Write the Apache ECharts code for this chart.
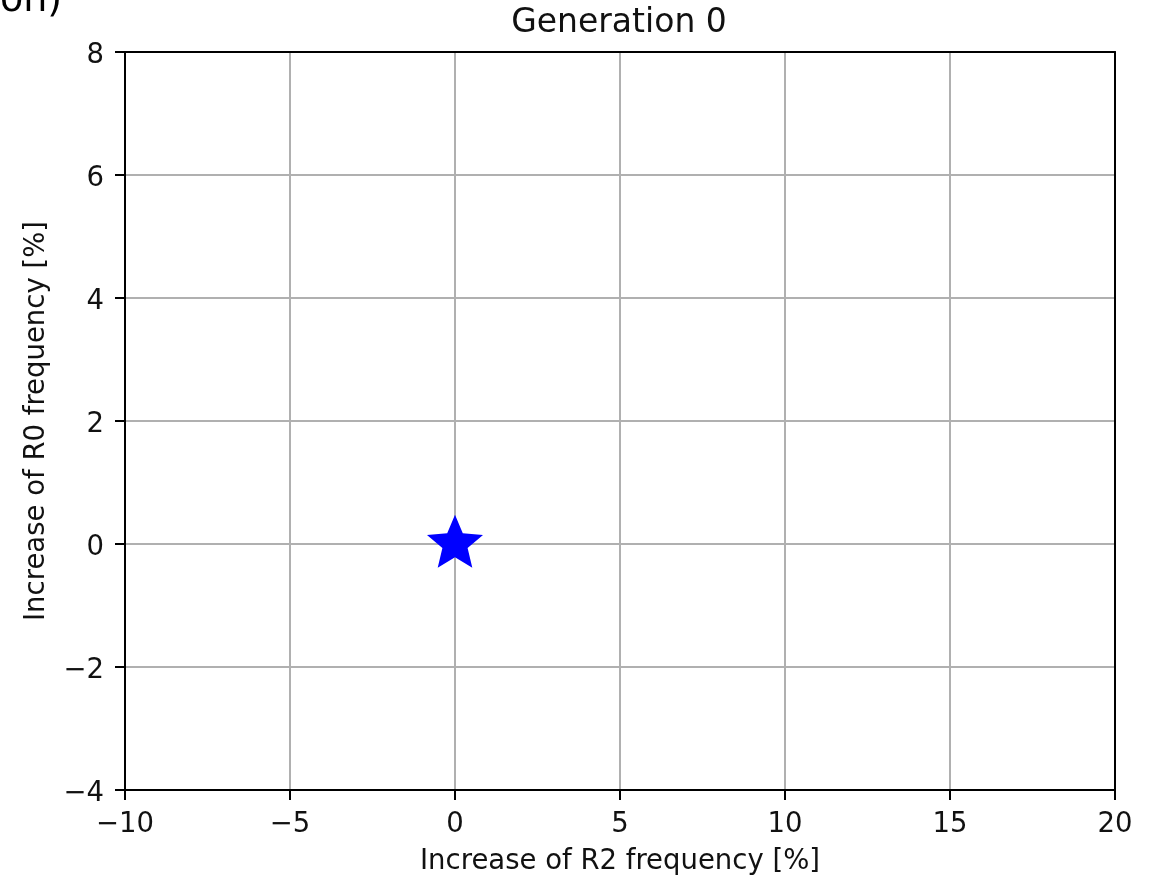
<!DOCTYPE html>
<html>
<head>
<meta charset="utf-8">
<script src="https://cdn.jsdelivr.net/npm/echarts@6/dist/echarts.min.js"></script>
<style>html,body{margin:0;padding:0;background:#fff;}#c{width:1161px;height:876px;}</style>
</head>
<body>
<div id="c"></div>
<script>
const titleText = 'Generation 0';
const xName = 'Increase of R2 frequency [%]';
const yName = 'Increase of R0 frequency [%]';
const xValues = [0];
const yValues = [0];
const xRange = [-10, 20];
const yRange = [-4, 8];
const xStep = 5;
const yStep = 2;

const FONT = 'DejaVu Sans';
const fmt = v => String(v).replace('-', '\u2212');
const starPath = 'path://M100,0L126.45,63.59L195.11,69.1L142.8,113.91L158.78,180.9L100,145L41.22,180.9L57.2,113.91L4.89,69.1L73.55,63.59Z';

const chart = echarts.init(document.getElementById('c'), null, {renderer: 'canvas'});
const axisLineStyle = {color: '#000', width: 2};
chart.setOption({
  animation: false,
  backgroundColor: '#fff',
  title: {
    text: titleText, left: 614, top: 2, textAlign: 'center',
    textStyle: {fontFamily: FONT, fontSize: 33, fontWeight: 'normal', color: '#111'}
  },
  graphic: [{
    type: 'text', left: 0, top: -18,
    style: {text: 'on)', font: '38px "DejaVu Sans"', fill: '#000'}
  }],
  grid: {left: 125, top: 52, width: 990, height: 738, containLabel: false, outerBoundsMode: 'none'},
  xAxis: [{
    type: 'value', min: xRange[0], max: xRange[1], interval: xStep,
    name: xName, nameLocation: 'middle', nameGap: 58,
    nameTextStyle: {fontFamily: FONT, fontSize: 27.5, color: '#111'},
    axisLine: {show: true, onZero: false, lineStyle: axisLineStyle},
    axisTick: {show: true, length: 10, lineStyle: {color: '#000', width: 2}},
    axisLabel: {fontFamily: FONT, fontSize: 27.5, color: '#111', margin: 21, formatter: fmt},
    splitLine: {show: true, lineStyle: {color: '#b0b0b0', width: 2}}
  }, {
    type: 'value', position: 'top', min: xRange[0], max: xRange[1], interval: xStep,
    axisLine: {show: true, onZero: false, lineStyle: axisLineStyle},
    axisTick: {show: false}, axisLabel: {show: false}, splitLine: {show: false}
  }],
  yAxis: [{
    type: 'value', min: yRange[0], max: yRange[1], interval: yStep,
    name: yName, nameLocation: 'middle', nameGap: 74,
    nameTextStyle: {fontFamily: FONT, fontSize: 27.5, color: '#111'},
    axisLine: {show: true, onZero: false, lineStyle: axisLineStyle},
    axisTick: {show: true, length: 10, lineStyle: {color: '#000', width: 2}},
    axisLabel: {
      margin: 21,
      formatter: v => '{a|' + fmt(v) + '}',
      rich: {a: {fontFamily: FONT, fontSize: 27.5, color: '#111', padding: [7, 0, 0, 0]}}
    },
    splitLine: {show: true, lineStyle: {color: '#b0b0b0', width: 2}}
  }, {
    type: 'value', position: 'right', min: yRange[0], max: yRange[1], interval: yStep,
    axisLine: {show: true, onZero: false, lineStyle: axisLineStyle},
    axisTick: {show: false}, axisLabel: {show: false}, splitLine: {show: false}
  }],
  series: [{
    type: 'scatter',
    data: xValues.map((x, i) => [x, yValues[i]]),
    symbol: starPath,
    symbolSize: [56, 53],
    symbolOffset: [0, -2.8],
    itemStyle: {color: '#0000ff', opacity: 1},
    z: 5
  }]
});
</script>
</body>
</html>
